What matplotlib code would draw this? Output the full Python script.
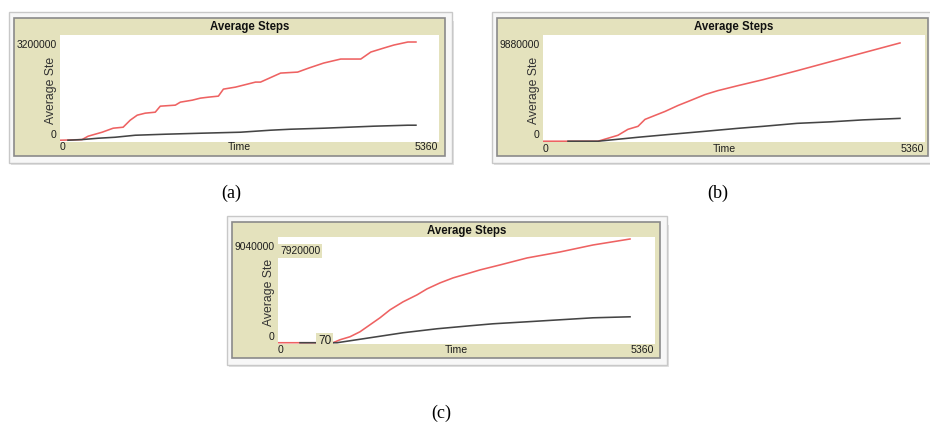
import matplotlib
matplotlib.use("Agg")
import matplotlib.pyplot as plt
from matplotlib.patches import Rectangle

# ---------------- data ----------------
x_ticks = ["0", "5360"]
x_max = 5360
title = "Average Steps"
y_label = "Average Ste"
x_label = "Time"
captions = ["(a)", "(b)", "(c)"]

# panel (a)
a_ymax = 3200000
a_red_t = [0, 312, 397, 596, 752, 893, 993, 1092, 1205, 1347, 1418, 1631, 1702, 1872, 1985,
           2099, 2240, 2311, 2482, 2765, 2836, 3120, 3361, 3517, 3729, 3970, 4254, 4396,
           4580, 4722, 4920, 5034]
a_red_v = [0, 20000, 122000, 244000, 366000, 396000, 610000, 762000, 823000, 853000, 1036000,
           1067000, 1158000, 1219000, 1280000, 1310000, 1341000, 1554000, 1615000, 1768000,
           1768000, 2042000, 2072000, 2194000, 2347000, 2469000, 2469000, 2682000, 2804000,
           2895000, 2987000, 2987000]
a_blk_t = [113, 312, 539, 780, 1064, 1489, 1985, 2552, 2978, 3261, 3729, 4438, 4920, 5034]
a_blk_v = [0, 20000, 61000, 91000, 152000, 183000, 213000, 244000, 305000, 335000, 366000,
           427000, 457000, 457000]

# panel (b)
b_ymax = 9880000
b_red_t = [0, 772, 912, 1052, 1192, 1333, 1431, 1571, 1712, 1894, 2034, 2273, 2455, 2736,
           3087, 3564, 4027, 4490, 5009]
b_red_v = [0, 0, 277000, 554000, 1108000, 1385000, 2031000, 2401000, 2770000, 3324000,
           3693000, 4340000, 4709000, 5171000, 5725000, 6556000, 7387000, 8218000, 9141000]
b_blk_t = [351, 772, 912, 1333, 1796, 2273, 2736, 3087, 3564, 4027, 4490, 5009]
b_blk_v = [0, 0, 92000, 369000, 646000, 923000, 1200000, 1385000, 1662000, 1800000,
           1985000, 2124000]

# panel (c)
c_ymax = 9040000
c_red_t = [0, 782, 882, 1024, 1166, 1308, 1450, 1593, 1778, 1977, 2119, 2304, 2489, 2730,
           2872, 3157, 3541, 4010, 4479, 5005]
c_red_v = [0, 0, 256000, 512000, 938000, 1535000, 2132000, 2814000, 3497000, 4094000,
           4605000, 5117000, 5543000, 5970000, 6226000, 6652000, 7249000, 7761000, 8358000,
           8869000]
c_blk_t = [313, 839, 1308, 1778, 2261, 2730, 3057, 3541, 4010, 4479, 5005]
c_blk_v = [0, 0, 426000, 853000, 1194000, 1450000, 1620000, 1791000, 1962000, 2132000,
           2217000]
c_readout_x = "70"
c_readout_y = "7920000"

# ---------------- style ----------------
W, H = 930, 430
KHAKI = "#e4e2bd"
RED = "#ee6262"
BLACK = "#454545"
SANS = ["Liberation Sans", "DejaVu Sans"]
SERIF = ["Liberation Serif", "DejaVu Serif"]

fig = plt.figure(figsize=(W / 100, H / 100), dpi=100)
fig.patch.set_facecolor("white")


def fx(x):
    return x / W


def fy(y):
    return 1 - y / H


def rect(x0, y0, x1, y1, **kw):
    fig.add_artist(Rectangle((fx(x0), fy(y1)), (x1 - x0) / W, (y1 - y0) / H,
                             transform=fig.transFigure, **kw))


def txt(x, y, s, **kw):
    kw.setdefault("family", SANS)
    kw.setdefault("color", "#1e1e1e")
    return fig.text(fx(x), fy(y), s, **kw)


def panel(frame, plot, ymax, red, blk, ylab_top):
    fx0, fy0, fx1, fy1 = frame
    # drop shadow and bevel
    rect(fx0 - 3, fy0 + 3, fx1 + 9, fy1 + 9, facecolor="#e2e2e2", edgecolor="none", zorder=0)
    rect(fx0 - 5, fy0 - 6, fx1 + 7, fy1 + 7, facecolor="#f7f7f7", edgecolor="#c8c8c8",
         linewidth=1.0, zorder=1)
    rect(fx0, fy0, fx1, fy1, facecolor=KHAKI, edgecolor="#8a8a8a", linewidth=1.2, zorder=2)
    px0, py0, px1, py1 = plot
    ax = fig.add_axes([fx(px0), fy(py1), (px1 - px0) / W, (py1 - py0) / H])
    ax.set_facecolor("white")
    ax.set_zorder(3)
    for s in ax.spines.values():
        s.set_visible(False)
    ax.set_xticks([])
    ax.set_yticks([])
    ax.set_xlim(0, x_max)
    ax.set_ylim(-ymax * 0.012, ymax)
    ax.plot(red[0], red[1], color=RED, lw=1.15)
    ax.plot(blk[0], blk[1], color=BLACK, lw=1.15)
    # titles and labels
    cx = (px0 + px1) / 2
    txt(cx, fy0 + 9, title, ha="center", va="center", fontsize=8.3, fontweight="bold",
        color="#111111", zorder=5)
    txt(px0 - 3, py0 + 10, ylab_top, ha="right", va="center", fontsize=7.4, zorder=5)
    txt(px0 - 4, py1 - 7, "0", ha="right", va="center", fontsize=7.6, zorder=5)
    txt(px0 - 9, (py0 + py1) / 2 + 2, y_label, ha="center", va="center", fontsize=8.8,
        rotation=90, color="#333333", zorder=5)
    txt(px0, py1 + 6, x_ticks[0], ha="left", va="center", fontsize=7.6, zorder=5)
    txt(cx - 10, py1 + 6, x_label, ha="center", va="center", fontsize=7.6, zorder=5)
    txt(px1 - 1, py1 + 6, x_ticks[1], ha="right", va="center", fontsize=7.6, zorder=5)
    return ax


panel((14, 18, 445, 156), (60, 35, 439, 141.5), a_ymax, (a_red_t, a_red_v),
      (a_blk_t, a_blk_v), "3200000")
panel((497, 18, 928, 156), (543, 35, 925, 142.5), b_ymax, (b_red_t, b_red_v),
      (b_blk_t, b_blk_v), "9880000")
axc = panel((232, 222, 660, 358), (278, 237, 655, 344), c_ymax, (c_red_t, c_red_v),
            (c_blk_t, c_blk_v), "9040000")

# NetLogo readout boxes in panel (c)
box = dict(boxstyle="square,pad=0.15", facecolor=KHAKI, edgecolor="none")
txt(280, 251, c_readout_y, ha="left", va="center", fontsize=7.4, zorder=6, bbox=box)
txt(318, 341, c_readout_x, ha="left", va="center", fontsize=8.5, zorder=6, bbox=box)

# captions
txt(231, 193, captions[0], ha="center", va="center", fontsize=13, family=SERIF, color="black")
txt(718, 193, captions[1], ha="center", va="center", fontsize=13, family=SERIF, color="black")
txt(441, 413, captions[2], ha="center", va="center", fontsize=13, family=SERIF, color="black")

fig.savefig("out.png", dpi=100)
